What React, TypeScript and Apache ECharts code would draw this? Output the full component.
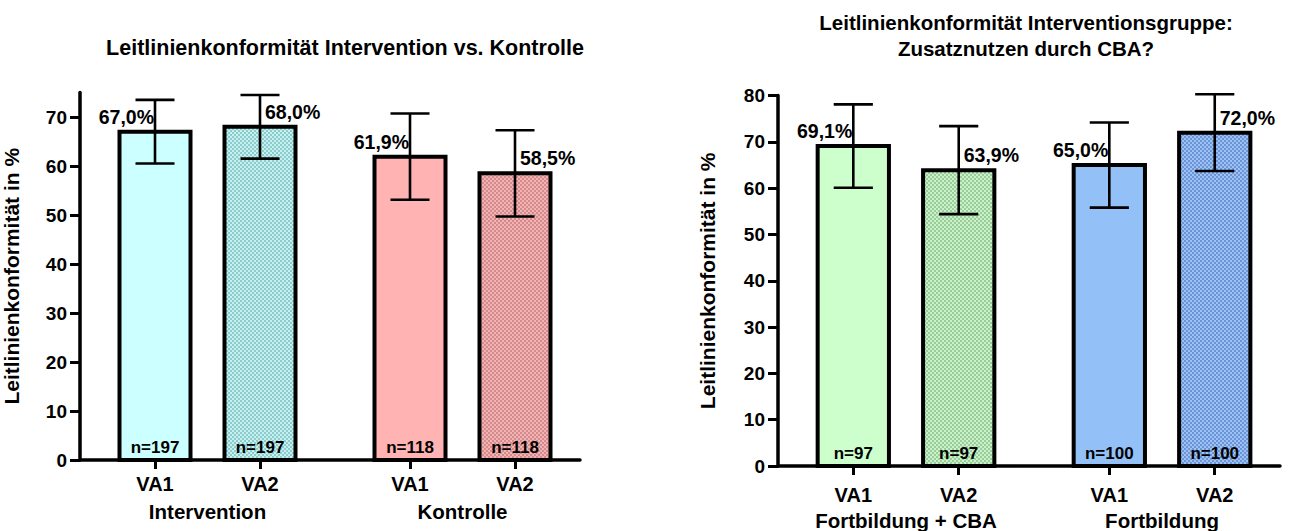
import React, { useEffect, useRef } from "react";
import * as echarts from "echarts";

const FONT = "'Liberation Sans', Arial, sans-serif";

const leftTitle = "Leitlinienkonformität Intervention vs. Kontrolle";
const rightTitleLines = ["Leitlinienkonformität Interventionsgruppe:", "Zusatznutzen durch CBA?"];
const yAxisName = "Leitlinienkonformität in %";

const barLabels = ["VA1", "VA2", "VA1", "VA2"];

const leftGroups = ["Intervention", "Kontrolle"];
const leftValues = [67.0, 68.0, 61.9, 58.5];
const leftErrLow = [60.5, 61.5, 53.1, 49.7];
const leftErrHigh = [73.5, 74.5, 70.7, 67.3];
const leftN = [197, 197, 118, 118];
const leftTicks = [0, 10, 20, 30, 40, 50, 60, 70];

const rightGroups = ["Fortbildung + CBA", "Fortbildung"];
const rightValues = [69.1, 63.9, 65.0, 72.0];
const rightErrLow = [60.1, 54.4, 55.8, 63.7];
const rightErrHigh = [78.1, 73.4, 74.2, 80.3];
const rightN = [97, 97, 100, 100];
const rightTicks = [0, 10, 20, 30, 40, 50, 60, 70, 80];

// category slot positions on the x scale (0..10)
const slotX = [1.5, 3.6, 6.6, 8.7];
const groupX = [2.55, 7.65];
const X_MAX = 10;
const BAR_W = 1.42;
const CAP_W = 0.78;

const leftColors = [
  { base: "#ccffff", dot: null },
  { base: "#c4f2f2", dot: "#8fcaca" },
  { base: "#ffb3b3", dot: null },
  { base: "#f6b2b2", dot: "#d08c8c" },
];
const rightColors = [
  { base: "#ccffcc", dot: null },
  { base: "#c8f2c8", dot: "#9ccc9c" },
  { base: "#94c0f8", dot: null },
  { base: "#9cc2f6", dot: "#6c94d4" },
];

function makeFill(c: { base: string; dot: string | null }) {
  if (!c.dot) return c.base;
  const cv = document.createElement("canvas");
  cv.width = 4;
  cv.height = 4;
  const ctx = cv.getContext("2d")!;
  ctx.fillStyle = c.base;
  ctx.fillRect(0, 0, 4, 4);
  ctx.fillStyle = c.dot;
  ctx.fillRect(0, 0, 2, 2);
  ctx.fillRect(2, 2, 2, 2);
  return { image: cv, repeat: "repeat" } as any;
}

function makeSeries(
  gridIdx: number,
  values: number[],
  lows: number[],
  highs: number[],
  ns: number[],
  colors: { base: string; dot: string | null }[],
  labelDy: number
) {
  const fills = colors.map(makeFill);
  return {
    type: "custom",
    xAxisIndex: gridIdx,
    yAxisIndex: gridIdx,
    encode: { x: 0, y: 1 },
    data: values.map((v, i) => [slotX[i], v, lows[i], highs[i], ns[i]]),
    renderItem: (params: any, api: any) => {
      const i = params.dataIndex;
      const x = api.value(0);
      const v = api.value(1);
      const lo = api.value(2);
      const hi = api.value(3);
      const n = api.value(4);
      const tl = api.coord([x - BAR_W / 2, v]);
      const br = api.coord([x + BAR_W / 2, 0]);
      const c = api.coord([x, v]);
      const pLo = api.coord([x, lo]);
      const pHi = api.coord([x, hi]);
      const capL = api.coord([x - CAP_W / 2, 0])[0];
      const capR = api.coord([x + CAP_W / 2, 0])[0];
      const even = i % 2 === 0;
      const lineStyle = { stroke: "#000", lineWidth: 2.6 };
      return {
        type: "group",
        children: [
          {
            type: "rect",
            shape: { x: tl[0], y: tl[1], width: br[0] - tl[0], height: br[1] - tl[1] },
            style: { fill: fills[i], stroke: "#000", lineWidth: 4 },
          },
          { type: "line", shape: { x1: c[0], y1: pLo[1], x2: c[0], y2: pHi[1] }, style: lineStyle },
          { type: "line", shape: { x1: capL, y1: pLo[1], x2: capR, y2: pLo[1] }, style: lineStyle },
          { type: "line", shape: { x1: capL, y1: pHi[1], x2: capR, y2: pHi[1] }, style: lineStyle },
          {
            type: "text",
            style: {
              text: v.toFixed(1).replace(".", ",") + "%",
              x: even ? c[0] - 1 : c[0] + 5,
              y: c[1] - labelDy,
              align: even ? "right" : "left",
              verticalAlign: "middle",
              font: `bold 19.5px ${FONT}`,
              fill: "#000",
            },
          },
          {
            type: "text",
            style: {
              text: "n=" + n,
              x: c[0],
              y: br[1] - 13,
              align: "center",
              verticalAlign: "middle",
              font: `bold 17px ${FONT}`,
              fill: "#000",
            },
          },
        ],
      };
    },
  };
}

function nearestIdx(arr: number[], v: number) {
  let best = 0;
  for (let i = 1; i < arr.length; i++) if (Math.abs(arr[i] - v) < Math.abs(arr[best] - v)) best = i;
  return best;
}

function barAxis(gridIndex: number, margin: number) {
  return {
    type: "value",
    gridIndex,
    position: "bottom",
    min: 0,
    max: X_MAX,
    axisLine: { show: true, onZero: false, lineStyle: { color: "#000", width: 3.5 } },
    axisTick: { show: true, customValues: slotX, length: 9, lineStyle: { color: "#000", width: 3 } },
    axisLabel: {
      show: true,
      customValues: slotX,
      formatter: (val: number) => barLabels[nearestIdx(slotX, val)],
      margin,
      color: "#000",
      fontSize: 20,
      fontWeight: "bold",
      fontFamily: FONT,
    },
    splitLine: { show: false },
  };
}

function groupAxis(gridIndex: number, groups: string[], margin: number) {
  return {
    type: "value",
    gridIndex,
    position: "bottom",
    min: 0,
    max: X_MAX,
    axisLine: { show: false },
    axisTick: { show: false },
    axisLabel: {
      show: true,
      customValues: groupX,
      formatter: (val: number) => groups[nearestIdx(groupX, val)],
      margin,
      color: "#000",
      fontSize: 20.5,
      fontWeight: "bold",
      fontFamily: FONT,
    },
    splitLine: { show: false },
  };
}

function valueAxis(gridIndex: number, max: number, ticks: number[], nameGap: number) {
  return {
    type: "value",
    gridIndex,
    min: 0,
    max,
    name: yAxisName,
    nameLocation: "middle",
    nameGap,
    nameTextStyle: { color: "#000", fontSize: 21, fontWeight: "bold", fontFamily: FONT },
    axisLine: { show: true, lineStyle: { color: "#000", width: 3.5 } },
    axisTick: { show: true, customValues: ticks, length: 10, lineStyle: { color: "#000", width: 3 } },
    axisLabel: {
      show: true,
      customValues: ticks,
      margin: 13,
      color: "#000",
      fontSize: 19,
      fontWeight: "bold",
      fontFamily: FONT,
    },
    splitLine: { show: false },
  };
}

export default function App() {
  const ref = useRef<HTMLDivElement>(null);
  useEffect(() => {
    if (!ref.current) return;
    const chart = echarts.init(ref.current, undefined, { renderer: "svg" });
    const option: any = {
      animation: false,
      textStyle: { fontFamily: FONT },
      grid: [
        { left: 80, top: 92.5, width: 500, height: 367.5, containLabel: false, outerBoundsMode: "none" },
        { left: 778, top: 95.6, width: 502, height: 370.4, containLabel: false, outerBoundsMode: "none" },
      ],
      xAxis: [barAxis(0, 14), barAxis(1, 19), groupAxis(0, leftGroups, 41), groupAxis(1, rightGroups, 44)],
      yAxis: [valueAxis(0, 75, leftTicks, 58), valueAxis(1, 80, rightTicks, 60)],
      series: [
        makeSeries(0, leftValues, leftErrLow, leftErrHigh, leftN, leftColors, 15),
        makeSeries(1, rightValues, rightErrLow, rightErrHigh, rightN, rightColors, 15),
      ],
      graphic: [
        {
          type: "text",
          x: 345,
          y: 48,
          style: {
            text: leftTitle,
            align: "center",
            verticalAlign: "middle",
            font: `bold 21.5px ${FONT}`,
            fill: "#000",
          },
        },
        {
          type: "text",
          x: 1026,
          y: 22,
          style: {
            text: rightTitleLines[0],
            align: "center",
            verticalAlign: "middle",
            font: `bold 20.5px ${FONT}`,
            fill: "#000",
          },
        },
        {
          type: "text",
          x: 1026,
          y: 48,
          style: {
            text: rightTitleLines[1],
            align: "center",
            verticalAlign: "middle",
            font: `bold 20.5px ${FONT}`,
            fill: "#000",
          },
        },
      ],
    };
    chart.setOption(option);
    return () => chart.dispose();
  }, []);
  return (
    <div
      ref={ref}
      style={{ position: "fixed", left: 0, top: 0, width: 1290, height: 531, background: "#fff" }}
    />
  );
}
